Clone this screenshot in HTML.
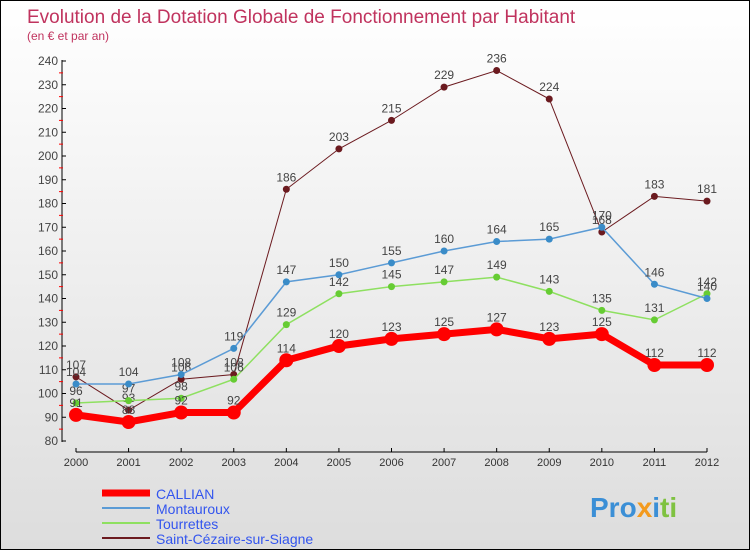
<!DOCTYPE html>
<html><head><meta charset="utf-8"><style>
body{margin:0}
#c{width:750px;height:550px;position:relative;box-sizing:border-box;border:1px solid #000;background:linear-gradient(#fff,#ddd);font-family:"Liberation Sans",sans-serif;overflow:hidden}
svg text{font-family:"Liberation Sans",sans-serif}
</style></head><body>
<div id="c">
<svg id="s" width="750" height="550">
<text x="26" y="22" font-size="19" fill="#c0335e">Evolution de la Dotation Globale de Fonctionnement par Habitant</text>
<text x="26" y="39" font-size="12" fill="#c0335e">(en € et par an)</text>
<text x="589" y="516" font-size="28" font-weight="bold" fill="#3b8fd6">Pro<tspan fill="#f39a1d">x</tspan><tspan fill="#3b8fd6">i</tspan><tspan fill="#7fc241">ti</tspan></text>
</svg>
</div>
<script>
const years=[2000,2001,2002,2003,2004,2005,2006,2007,2008,2009,2010,2011,2012];
const callian=[91,88,92,92,114,120,123,125,127,123,125,112,112];
const montauroux=[104,104,108,119,147,150,155,160,164,165,170,146,140];
const tourrettes=[96,97,98,106,129,142,145,147,149,143,135,131,142];
const stcezaire=[107,93,106,108,186,203,215,229,236,224,168,183,181];
const yTicks=[80,90,100,110,120,130,140,150,160,170,180,190,200,210,220,230,240];
const NS="http://www.w3.org/2000/svg",s=document.getElementById('s');
const xS=i=>75+i*(706-75)/12, yS=v=>440-(v-80)*380/160;
function el(t,a,p){const e=document.createElementNS(NS,t);for(const k in a)e.setAttribute(k,a[k]);(p||s).appendChild(e);return e;}
const ax=el('line',{x1:61,y1:59,x2:61,y2:441,stroke:'#000'});


const xa=el('line',{x1:75,y1:451,x2:706,y2:451,stroke:'#000'});


yTicks.forEach(v=>{const y=yS(v);
el('line',{x1:61,y1:y,x2:65,y2:y,stroke:'#000'});
if(v<240) el('line',{x1:58,y1:yS(v+5),x2:62,y2:yS(v+5),stroke:'red'});
const t=el('text',{x:57,y:y+4,'font-size':12,fill:'#444','text-anchor':'end'});t.textContent=v;

});
years.forEach((yr,i)=>{el('line',{x1:xS(i),y1:447,x2:xS(i),y2:451,stroke:'#000'});
const t=el('text',{x:xS(i),y:465,'font-size':11,fill:'#333','text-anchor':'middle'});t.textContent=yr;

});
const series=[
{n:'saint-cezaire',d:stcezaire,c:'#6b1a1f',w:1,r:3.5},
{n:'tourrettes',d:tourrettes,c:'#8ee060',w:1.5,r:3.5},
{n:'montauroux',d:montauroux,c:'#5b9bd5',w:1.5,r:3.5},
{n:'callian',d:callian,c:'#ff0000',w:7,r:7}];
const dotc={'saint-cezaire':'#6b1a1f','tourrettes':'#66cc33','montauroux':'#3a8cc8','callian':'#ff0000'};
series.forEach(se=>{
const g=el('g',{});


const pl=el('polyline',{points:se.d.map((v,i)=>xS(i)+','+yS(v)).join(' '),fill:'none',stroke:se.c,'stroke-width':se.w},g);


se.d.forEach((v,i)=>{const c=el('circle',{cx:xS(i),cy:yS(v),r:se.r,fill:dotc[se.n]},g);


const t=el('text',{x:xS(i),y:yS(v)-8,'font-size':12,fill:'#444','text-anchor':'middle'},g);t.textContent=v;

});
});
const leg=[['CALLIAN','#ff0000',7],['Montauroux','#5b9bd5',2],['Tourrettes','#8ee060',2],['Saint-Cézaire-sur-Siagne','#6b1a1f',2]];
leg.forEach((l,i)=>{const y=492+i*15;
const g=el('g',{});


el('line',{x1:101,y1:y,x2:149,y2:y,stroke:l[1],'stroke-width':l[2]},g);
const t=el('text',{x:155,y:y+6,'font-size':14,fill:'#3355ee'},g);t.textContent=l[0];});
</script>
</body></html>
